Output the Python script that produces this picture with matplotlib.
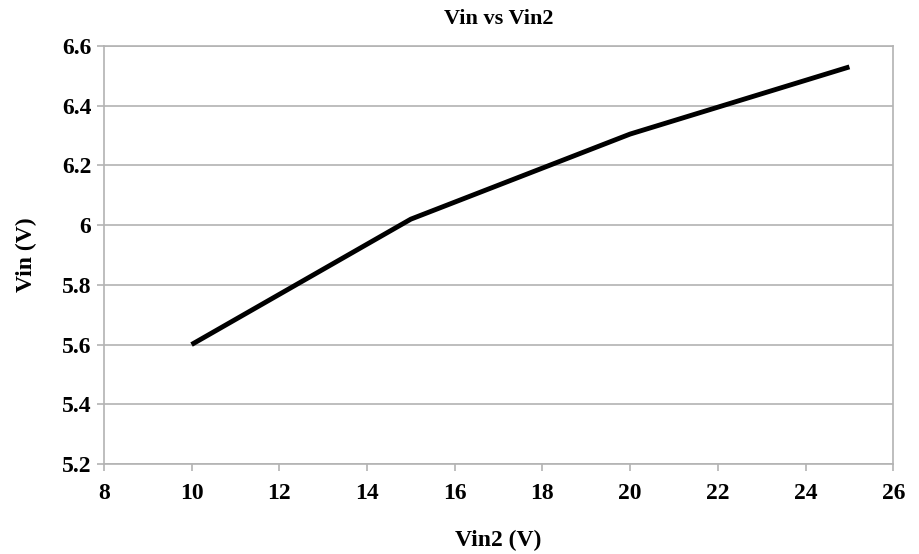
import matplotlib
matplotlib.use("Agg")
import matplotlib.pyplot as plt

# 데이터
vin2 = [10, 15, 20, 25]
vin = [5.6, 6.02, 6.305, 6.53]

plt.rcParams['font.family'] = ['Liberation Serif', 'DejaVu Serif']
plt.rcParams['font.weight'] = 'bold'

fig = plt.figure(figsize=(9.19, 5.54), dpi=100)
ax = fig.add_axes([0.113, 0.1625, 0.859, 0.7545])

ax.plot(vin2, vin, color='black', linewidth=3.5, solid_capstyle='butt')

ax.set_xlim(8, 26)
ax.set_ylim(5.2, 6.6)
ax.set_xticks(range(8, 27, 2))
ax.set_yticks([5.2, 5.4, 5.6, 5.8, 6.0, 6.2, 6.4, 6.6])
ax.set_yticklabels(['5.2', '5.4', '5.6', '5.8', '6', '6.2', '6.4', '6.6'])

ax.grid(axis='y', color='#b3b3b3', linewidth=1.2)
ax.set_axisbelow(True)
for s in ax.spines.values():
    s.set_color('#b3b3b3')
    s.set_linewidth(1.2)

ax.tick_params(axis='both', labelsize=17, color='#b3b3b3', length=5, width=1.2)
ax.tick_params(axis='x', pad=9)
ax.tick_params(axis='y', pad=4)

ax.set_title('Vin vs Vin2', fontsize=16, fontweight='bold', pad=16)
ax.set_xlabel('Vin2 (V)', fontsize=17, fontweight='bold', labelpad=18)
ax.set_ylabel('Vin (V)', fontsize=17, fontweight='bold', labelpad=18)

fig.savefig('out.png', dpi=100)
